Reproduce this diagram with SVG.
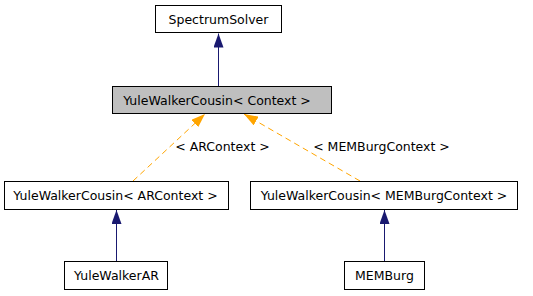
<svg xmlns="http://www.w3.org/2000/svg" width="533" height="296" viewBox="0 0 533 296">
<style>
  .box rect { fill: #ffffff; stroke: #000000; stroke-width: 1; }
  .box.cur rect { fill: #bfbfbf; }
  text { font-family: "DejaVu Sans", sans-serif; font-size: 12.5px; fill: #000000; text-anchor: middle; }
  .inh { stroke: #191970; stroke-width: 1; fill: none; }
  .tpl { stroke: #ffa500; stroke-width: 1; stroke-dasharray: 6,4; fill: none; }
</style>
<defs>
  <marker id="navyHead" viewBox="0 0 14 10" refX="14" refY="5" markerWidth="14" markerHeight="10" markerUnits="userSpaceOnUse" orient="auto">
    <path d="M0,0 L14,5 L0,10 Z" fill="#191970"/>
  </marker>
  <marker id="orangeHead" viewBox="0 0 14 10" refX="14" refY="5" markerWidth="14" markerHeight="10" markerUnits="userSpaceOnUse" orient="auto">
    <path d="M0,0 L14,5 L0,10 Z" fill="#ffa500"/>
  </marker>
</defs>

<g id="connectors">
  <line class="inh" x1="218.5" y1="86" x2="218.5" y2="33.5" marker-end="url(#navyHead)"/>
  <line class="tpl" x1="133" y1="181" x2="205" y2="114" marker-end="url(#orangeHead)"/>
  <line class="tpl" x1="360" y1="181" x2="244" y2="114" marker-end="url(#orangeHead)"/>
  <line class="inh" x1="116.5" y1="261" x2="116.5" y2="210" marker-end="url(#navyHead)"/>
  <line class="inh" x1="384.5" y1="261" x2="384.5" y2="210" marker-end="url(#navyHead)"/>
  <text x="222.5" y="151">&lt; ARContext &gt;</text>
  <text x="381.5" y="151">&lt; MEMBurgContext &gt;</text>
</g>

<g id="SpectrumSolver" class="box">
  <rect x="155.5" y="5.5" width="126" height="27"/>
  <text x="218.5" y="24">SpectrumSolver</text>
</g>
<g id="YuleWalkerCousin_Context" class="box cur">
  <rect x="112.5" y="86.5" width="219" height="27"/>
  <text x="217" y="105">YuleWalkerCousin&lt; Context &gt;</text>
</g>
<g id="YuleWalkerCousin_ARContext" class="box">
  <rect x="4.5" y="181.5" width="224" height="28"/>
  <text x="115.5" y="199.5">YuleWalkerCousin&lt; ARContext &gt;</text>
</g>
<g id="YuleWalkerCousin_MEMBurgContext" class="box">
  <rect x="250.5" y="181.5" width="267" height="28"/>
  <text x="384" y="199.5">YuleWalkerCousin&lt; MEMBurgContext &gt;</text>
</g>
<g id="YuleWalkerAR" class="box">
  <rect x="64.5" y="261.5" width="103" height="28"/>
  <text x="116.5" y="279.5">YuleWalkerAR</text>
</g>
<g id="MEMBurg" class="box">
  <rect x="344.5" y="261.5" width="80" height="28"/>
  <text x="384.5" y="279.5">MEMBurg</text>
</g>
</svg>
